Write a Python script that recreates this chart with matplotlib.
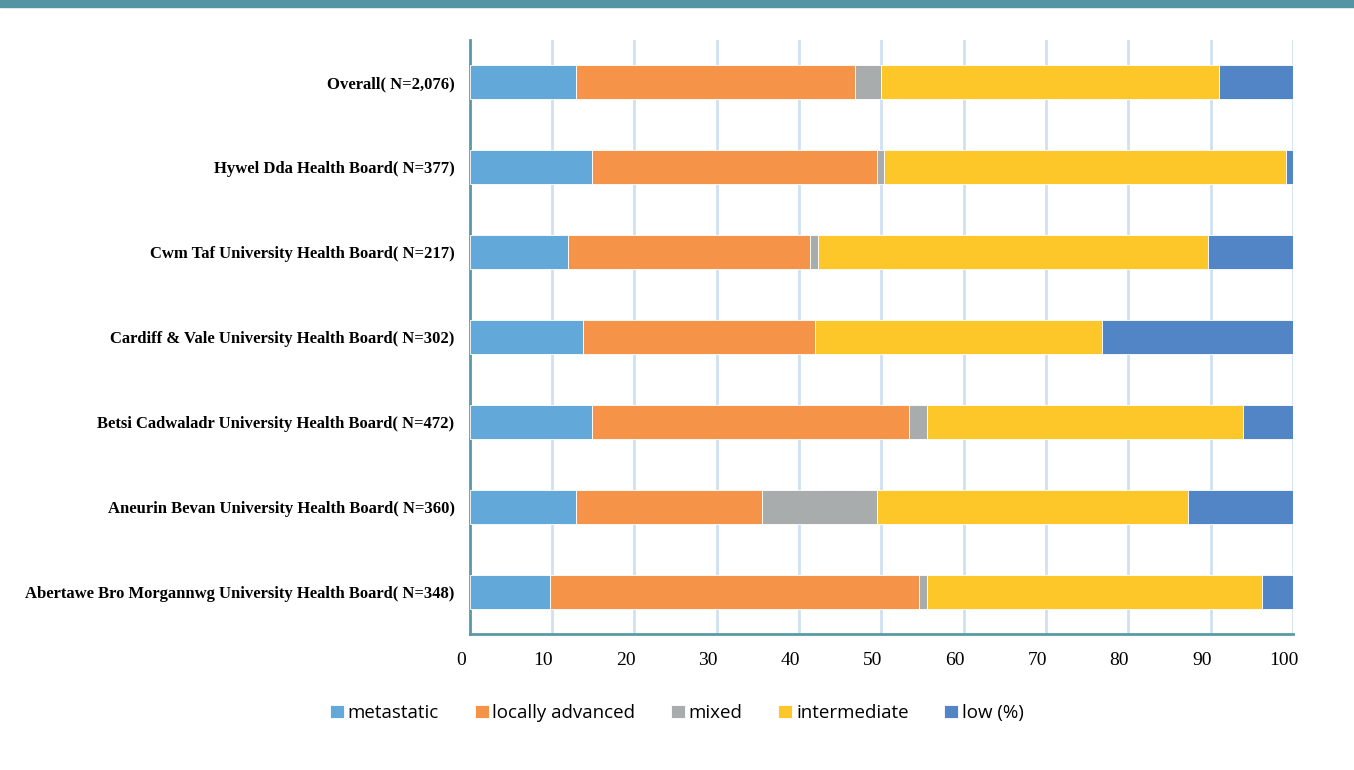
#!/usr/bin/env python3
"""
Stacked horizontal bars: stage at diagnosis by Welsh health board.
"""

import numpy as np
import matplotlib.pyplot as plt
import matplotlib.transforms as mtransforms
from matplotlib.patches import Rectangle

# categories, bottom to top
boards = [
    "Abertawe Bro Morgannwg University Health Board( N=348)",
    "Aneurin Bevan University Health Board( N=360)",
    "Betsi Cadwaladr University Health Board( N=472)",
    "Cardiff & Vale University Health Board( N=302)",
    "Cwm Taf University Health Board( N=217)",
    "Hywel Dda Health Board( N=377)",
    "Overall( N=2,076)",
]

metastatic = [9.7, 12.9, 14.8, 13.8, 11.9, 14.8, 12.9]
locally_advanced = [44.9, 22.6, 38.5, 28.1, 29.4, 34.6, 33.9]
mixed = [0.9, 13.9, 2.2, 0.0, 1.0, 0.9, 3.2]
intermediate = [40.7, 37.8, 38.4, 34.9, 47.4, 48.8, 41.0]
low = [3.8, 12.8, 6.1, 23.2, 10.3, 0.9, 9.0]

series_names = ["metastatic", "locally advanced", "mixed", "intermediate", "low (%)"]
colors = ["#62a9da", "#f59449", "#a9acac", "#fdc629", "#5185c5"]

teal = "#5a9aa5"


def plot():
    fig = plt.figure(figsize=(13.54, 7.70), dpi=100)
    # teal band along the top
    fig.patches.append(Rectangle((0, 0.991), 1, 0.009, transform=fig.transFigure,
                                 color="#5595a3", zorder=0))

    ax = fig.add_axes([0.347, 0.1766, 0.608, 0.7714])
    y = np.arange(len(boards))
    left = np.zeros(len(boards))
    for vals, name, c in zip([metastatic, locally_advanced, mixed, intermediate, low],
                             series_names, colors):
        ax.barh(y, vals, left=left, height=0.4, color=c, label=name,
                edgecolor="white", linewidth=0.6, zorder=3)
        left += np.array(vals)

    ax.set_xlim(0, 100)
    ax.set_ylim(-0.5, len(boards) - 0.5)
    ax.set_xticks(np.arange(0, 101, 10))
    ax.set_yticks(y)
    ax.set_yticklabels(boards, fontfamily="Liberation Serif", fontweight="bold",
                       fontsize=12)
    ax.tick_params(axis="y", length=0, pad=11)
    ax.tick_params(axis="x", length=0, pad=13, labelsize=14)
    for lab in ax.get_xticklabels():
        lab.set_fontfamily("Liberation Serif")
        lab.set_transform(lab.get_transform() +
                          mtransforms.ScaledTranslation(-0.09, 0, fig.dpi_scale_trans))

    # vertical gridlines
    ax.grid(axis="x", color="#cfe1f1", linewidth=2, zorder=0)
    ax.set_axisbelow(True)

    for side in ["top", "right"]:
        ax.spines[side].set_visible(False)
    for side in ["left", "bottom"]:
        ax.spines[side].set_color(teal)
        ax.spines[side].set_linewidth(2)

    # legend below
    fig.legend(loc="center", bbox_to_anchor=(0.5, 0.074), ncol=5, frameon=False,
               handlelength=0.75, handleheight=0.75, handletextpad=0.2,
               columnspacing=1.9, prop={"family": "Open Sans", "size": 13.5})

    fig.savefig("out.png", dpi=100)


if __name__ == "__main__":
    plot()
